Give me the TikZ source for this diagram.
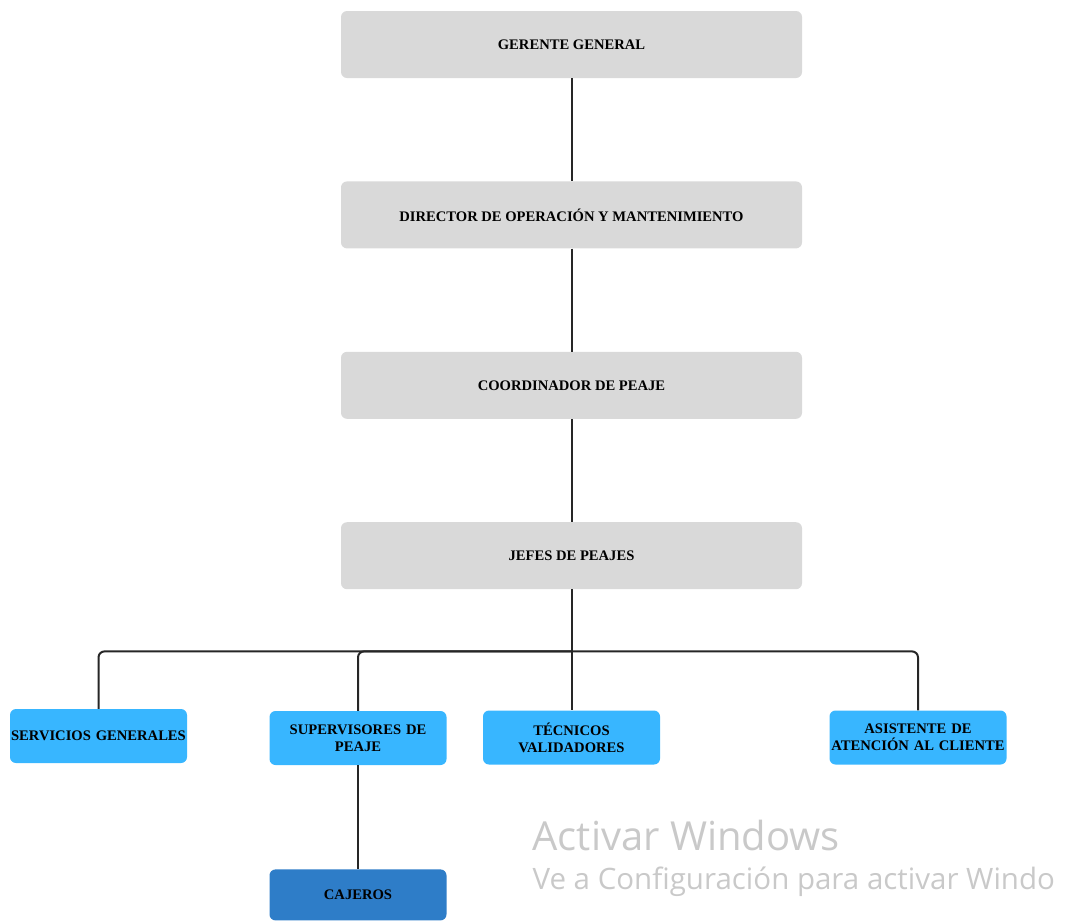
\documentclass[tikz,border=0pt]{standalone}
\usepackage{fontspec}
\setmainfont{Liberation Serif}
\newfontfamily\wmfont{Open Sans}
\usepackage{xcolor}
\usetikzlibrary{positioning}
\definecolor{boxgray}{HTML}{D9D9D9}
\definecolor{boxblue}{HTML}{38B6FF}
\definecolor{boxdark}{HTML}{2E7DC8}
\definecolor{wmgray}{HTML}{C9C9C9}

\begin{document}
\begin{tikzpicture}[
  x=1pt,y=1pt,
  node distance=103pt,
  every node/.style={font=\fontsize{14.6}{17}\selectfont\bfseries,align=center},
  jefe/.style={draw=none,rounded corners=6pt,fill=boxgray,minimum width=461pt,minimum height=67pt,inner sep=0pt},
  area/.style={draw=none,rounded corners=6pt,fill=boxblue,minimum width=177pt,minimum height=54pt,inner sep=1pt,text width=175pt},
  link/.style={line width=2pt,draw=black!85,rounded corners=6pt}
]
\useasboundingbox (0,0) rectangle (1071,-922);
\node[jefe] (gg) at (571.5,-44.5) {GERENTE GENERAL};
\node[jefe,below=of gg] (dir) {DIRECTOR DE OPERACIÓN Y MANTENIMIENTO};
\node[jefe,below=of dir] (coord) {COORDINADOR DE PEAJE};
\node[jefe,below=of coord] (jp) {JEFES DE PEAJES};
\node[area] (sg) at (98.5,-736) {SERVICIOS GENERALES};
\node[area] (sup) at (358,-738) {SUPERVISORES DE\\PEAJE};
\node[area] (tec) at (571.5,-737.5) {TÉCNICOS\\VALIDADORES};
\node[area] (asis) at (918,-737.5) {ASISTENTE DE\\ATENCIÓN AL CLIENTE};
\node[area,fill=boxdark,minimum height=51pt,below=104pt of sup] (caj) {CAJEROS};
\draw[link] (gg)--(dir);
\draw[link] (dir)--(coord);
\draw[link] (coord)--(jp);
\draw[link] (jp.south)--++(0,-62) coordinate (bus);
\draw[link] (bus)-|(sg.north);
\draw[link] (bus)-|(sup.north);
\draw[link] (bus)--(tec.north);
\draw[link] (bus)-|(asis.north);
\draw[link] (sup)--(caj);
% marca de agua
\node[font=\wmfont\fontsize{40}{44}\selectfont,text=wmgray,anchor=base west] (wm1) at (529,-850) {Activar Windows};
\node[font=\wmfont\fontsize{29.5}{32}\selectfont,text=wmgray,anchor=base west] (wm2) at (529,-889) {Ve a Configuración para activar Windo};
\end{tikzpicture}
\end{document}
